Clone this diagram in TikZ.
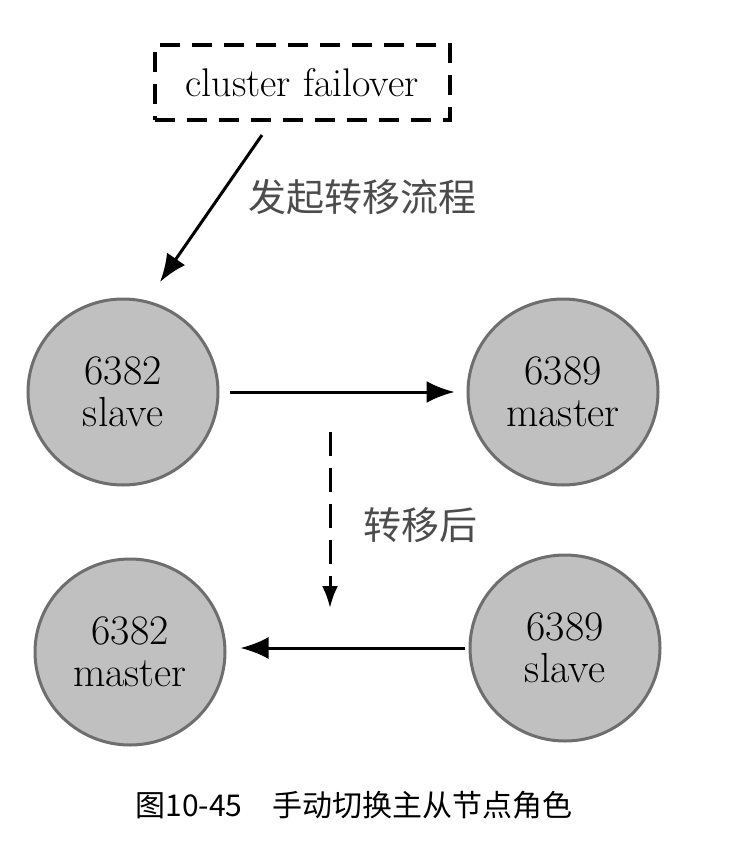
\documentclass[tikz,border=0pt]{standalone}
\usepackage{fontspec}
\newfontfamily\cjk{Noto Sans CJK SC}
\usepackage{tikz}
\usetikzlibrary{arrows.meta,shapes.geometric}
\definecolor{gris}{RGB}{192,192,192}
\definecolor{grisfonce}{RGB}{110,110,110}

\begin{document}
\begin{tikzpicture}[x=1pt, y=-1pt,
    noeud/.style={draw=grisfonce, fill=gris, line width=3pt, ellipse, minimum width=190pt, minimum height=186pt, inner sep=0pt, align=center, font=\fontsize{42}{44}\selectfont},
    boite/.style={draw, line width=4pt, dash pattern=on 20pt off 12pt, minimum width=295pt, minimum height=75pt, font=\fontsize{40}{44}\selectfont},
    fleche/.style={-{Latex[length=28pt,width=22pt]}, line width=3pt},
    etiq/.style={text=black!70, font=\cjk\fontsize{38}{42}\selectfont}]
    \useasboundingbox (0,0) rectangle (748,848);
    % Commande
    \node[boite] at (302,83) (cmd) {cluster failover};
    % Noeuds avant
    \node[noeud] at (123,392) (s1) {6382\\[-2pt]slave};
    \node[noeud] at (563,392) (m1) {6389\\[-2pt]master};
    % Noeuds apres
    \node[noeud] at (130,652) (m2) {6382\\[-2pt]master};
    \node[noeud] at (565,648) (s2) {6389\\[-2pt]slave};
    % Points libres
    \coordinate (d1) at (262,135);
    \coordinate (d2) at (160,282);
    \coordinate (t1) at (330,432);
    \coordinate (t2) at (330,608);
    % Fleches
    \draw[fleche] (d1) -- (d2);
    \draw[fleche, shorten <=10pt, shorten >=12pt] (s1) -- (m1);
    \draw[fleche, shorten <=4pt, shorten >=14pt] (s2.west) -- (m2.east |- s2.west);
    \draw[line width=3pt, -{Latex[length=22pt,width=16pt]}, dash pattern=on 24pt off 12pt] (t1) -- (t2);
    % Textes
    \node[etiq] at (362,197) (lab1) {发起转移流程};
    \node[etiq] at (420,525) (lab2) {转移后};
    \node[font=\cjk\fontsize{30}{34}\selectfont] at (354,805) (titre) {图10-45\quad 手动切换主从节点角色};
\end{tikzpicture}
\end{document}
